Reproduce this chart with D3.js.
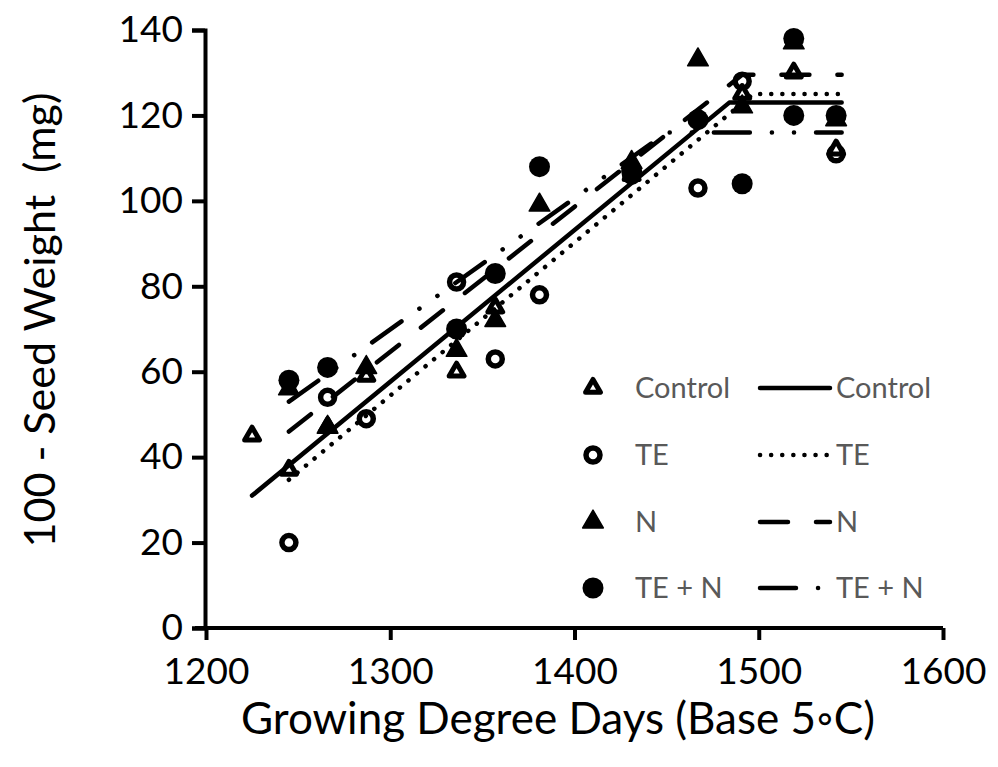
<!DOCTYPE html>
<meta charset="utf-8">
<script src="https://d3js.org/d3.v7.min.js"></script>
<style>
    body { margin: 0; background: #fff; }
    .tick text, .axis_title { font-family: Lato, "Open Sans", sans-serif; fill: #000; }
    .legend text { font-family: Lato, "Open Sans", sans-serif; fill: #595959; font-size: 29px; }
</style>
<div id="my_dataviz"></div>
<script>
// measured points (GDD, 100-seed weight in mg)
const controlGdd = [1225, 1245, 1266, 1287, 1336, 1357, 1431, 1491, 1519, 1542];
const controlWt  = [45, 37, 47, 59, 60, 75, 106, 125, 130, 112];
const teGdd = [1245, 1266, 1287, 1336, 1357, 1381, 1431, 1467, 1491, 1542];
const teWt  = [20, 54, 49, 81, 63, 78, 106, 103, 128, 111];
const nGdd = [1245, 1266, 1287, 1336, 1357, 1381, 1431, 1467, 1491, 1519, 1542];
const nWt  = [56, 47, 61, 65, 72, 99, 109, 133, 122, 137, 119];
const tenGdd = [1245, 1266, 1336, 1357, 1381, 1431, 1467, 1491, 1519, 1519, 1542];
const tenWt  = [58, 61, 70, 83, 108, 107, 119, 104, 138, 120, 120];

// linear-plateau fits: start point, break point, plateau, end
const seriesNames = ["Control", "TE", "N", "TE + N"];
const fitStartGdd = [1225, 1245, 1245, 1245];
const fitStartWt  = [31, 34.7, 46, 53];
const fitBreakGdd = [1484, 1497, 1491, 1450];
const fitPlateau  = [123, 125, 129.5, 116];
const fitEndGdd   = 1545;

const xTicks = [1200, 1300, 1400, 1500, 1600];
const yTicks = [0, 20, 40, 60, 80, 100, 120, 140];

const width = 998, height = 767;

const x = d3.scaleLinear().domain([1200, 1600]).range([206, 943]);
const y = d3.scaleLinear().domain([0, 140]).range([628, 30]);

const svg = d3.select("#my_dataviz").append("svg")
    .attr("width", width).attr("height", height);

// axes
const xAxis = svg.append("g").attr("transform", "translate(0,628)")
    .call(d3.axisBottom(x).tickValues(xTicks).tickSize(12).tickPadding(18).tickFormat(d3.format("d")));
const yAxis = svg.append("g").attr("transform", "translate(205,0)")
    .call(d3.axisLeft(y).tickValues(yTicks).tickSize(13).tickPadding(9));

[xAxis, yAxis].forEach(function(g) {
    g.select(".domain").attr("stroke-width", 4).attr("stroke", "#000");
    g.selectAll(".tick line").attr("stroke-width", 4).attr("stroke", "#000");
    g.selectAll(".tick text").style("font-size", "37px");
});
xAxis.select(".domain").attr("d", "M" + (x(1200) - 11) + ",0H" + x(1600));
xAxis.selectAll(".tick text").attr("dy", "0.71em");
yAxis.selectAll(".tick text").attr("dy", "0.32em");

svg.append("text").attr("class", "axis_title")
    .attr("x", 558).attr("y", 734)
    .attr("text-anchor", "middle").style("font-size", "44px")
    .text("Growing Degree Days (Base 5\u25E6C)");

svg.append("text").attr("class", "axis_title")
    .attr("transform", "translate(55,320) rotate(-90)")
    .attr("text-anchor", "middle").style("font-size", "43px")
    .text("100 - Seed Weight\u00A0\u00A0(mg)");

// marker drawing
const triOpen = d3.symbol().type(d3.symbolTriangle).size(95);
const triFilled = d3.symbol().type(d3.symbolTriangle).size(185);

function drawMarker(g, kind) {
    if (kind === "control") {
        g.append("path").attr("d", triOpen()).attr("fill", "#fff")
            .attr("stroke", "#000").attr("stroke-width", 5).attr("stroke-linejoin", "round");
    } else if (kind === "te") {
        g.append("circle").attr("r", 7).attr("fill", "#fff")
            .attr("stroke", "#000").attr("stroke-width", 5.5);
    } else if (kind === "n") {
        g.append("path").attr("d", triFilled()).attr("fill", "#000")
            .attr("stroke", "#000").attr("stroke-width", 1.5).attr("stroke-linejoin", "round");
    } else {
        g.append("circle").attr("r", 10.5).attr("fill", "#000");
    }
}

const pointSets = [
    {kind: "te", gdd: teGdd, wt: teWt},
    {kind: "control", gdd: controlGdd, wt: controlWt},
    {kind: "n", gdd: nGdd, wt: nWt},
    {kind: "ten", gdd: tenGdd, wt: tenWt}
];

pointSets.forEach(function(s) {
    s.gdd.forEach(function(g, i) {
        const m = svg.append("g").attr("transform", "translate(" + x(g) + "," + y(s.wt[i]) + ")");
        drawMarker(m, s.kind);
    });
});

// fitted lines
const dashes = [null, "0.1,11", "28,28", "36,22,0.1,22,0.1,22"];
const line = d3.line().x(d => x(d[0])).y(d => y(d[1]));

seriesNames.forEach(function(name, i) {
    const pts = [[fitStartGdd[i], fitStartWt[i]], [fitBreakGdd[i], fitPlateau[i]], [fitEndGdd, fitPlateau[i]]];
    svg.append("path").datum(pts)
        .attr("d", line)
        .attr("fill", "none").attr("stroke", "#000").attr("stroke-width", 4.5)
        .attr("stroke-linecap", "round").attr("stroke-linejoin", "round")
        .attr("stroke-dasharray", dashes[i]);
});

// legend
const legendKinds = ["control", "te", "n", "ten"];
const legendRowY = [388, 455, 522, 588];
const legend = svg.append("g").attr("class", "legend");

seriesNames.forEach(function(name, i) {
    const ry = legendRowY[i];
    const m = legend.append("g").attr("transform", "translate(593," + ry + ")");
    drawMarker(m, legendKinds[i]);
    legend.append("text").attr("x", 635).attr("y", ry + 10).text(name);
    legend.append("path").attr("d", "M760," + ry + "H830")
        .attr("fill", "none").attr("stroke", "#000").attr("stroke-width", 4.5)
        .attr("stroke-linecap", "round").attr("stroke-dasharray", dashes[i]);
    legend.append("text").attr("x", 836).attr("y", ry + 10).text(name);
});
</script>
